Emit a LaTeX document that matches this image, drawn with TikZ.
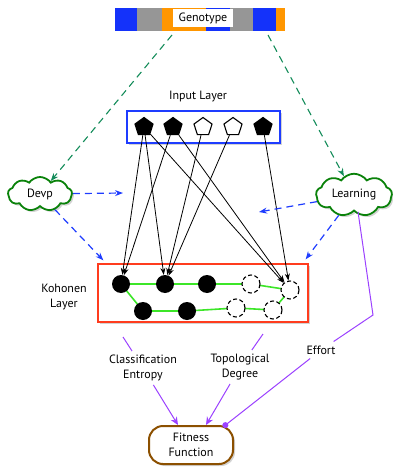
\documentclass[tikz,border=0pt]{standalone}
\usepackage{fontspec}
\setmainfont{PT Sans}
\usetikzlibrary{arrows.meta,shapes.geometric,shapes.symbols,shadows}
\definecolor{gene blue}{RGB}{20,50,250}
\definecolor{gene gray}{RGB}{150,150,150}
\definecolor{gene orange}{RGB}{255,150,0}
\definecolor{seed green}{RGB}{20,140,90}
\definecolor{cloud green}{RGB}{10,130,10}
\definecolor{hint blue}{RGB}{30,60,255}
\definecolor{som red}{RGB}{255,60,30}
\definecolor{ring green}{RGB}{60,230,40}
\definecolor{score purple}{RGB}{155,65,255}
\definecolor{fit brown}{RGB}{140,80,0}
\newcommand\diagfont{\fontsize{12}{14.5}\selectfont}
\tikzset{
  gene/.style={rectangle, inner sep=0pt, outer sep=0pt, minimum height=23, anchor=west},
  gene label/.style={fill=white, inner sep=2pt, minimum width=60, minimum height=18, font=\diagfont},
  layer box/.style={rectangle, fill=white, line width=1.3pt, drop shadow={opacity=0.35, shadow xshift=2pt, shadow yshift=-2pt}},
  layer label/.style={font=\diagfont, align=center},
  input unit/.style={regular polygon, regular polygon sides=5, minimum size=19, inner sep=0pt, draw=black, line width=1.1pt},
  on unit/.style={input unit, fill=black},
  off unit/.style={input unit, fill=white},
  som unit/.style={circle, minimum size=18, inner sep=0pt, fill=black},
  som ghost/.style={circle, minimum size=18, inner sep=0pt, draw=black, fill=white, line width=1.1pt, dash pattern=on 4pt off 2.5pt},
  ring/.style={ring green, line width=1.6pt},
  weight/.style={black, line width=0.8pt, arrows={-Stealth[length=7pt, width=5pt]}},
  mood/.style={cloud, cloud puffs=9, cloud puff arc=110, aspect=2, fill=white, draw=cloud green, line width=1.8pt, inner sep=1pt, font=\diagfont, drop shadow={opacity=0.35, shadow xshift=2pt, shadow yshift=-2pt}},
  seed link/.style={seed green, line width=1.1pt, dash pattern=on 7pt off 5pt, arrows={-Stealth[length=8pt, width=6pt]}},
  hint link/.style={hint blue, line width=1.2pt, dash pattern=on 7pt off 5pt, arrows={-Stealth[length=8pt, width=6pt]}},
  score/.style={score purple, line width=1pt},
  score link/.style={score, arrows={-Stealth[length=8pt, width=7pt]}},
  score label/.style={font=\diagfont, align=center, inner sep=4pt},
  fitness/.style={rectangle, rounded corners=14pt, draw=fit brown, fill=white, line width=2pt, minimum width=84, minimum height=38, align=center, font=\diagfont, drop shadow={opacity=0.35, shadow xshift=2pt, shadow yshift=-2pt}}
}

\begin{document}
\begin{tikzpicture}[x=1pt, y=-1pt]
  \useasboundingbox (0,0) rectangle (392,468);

  \node[gene, fill=gene blue,   minimum width=22] at (115,19.5) (g1) {};
  \node[gene, fill=gene gray,   minimum width=25] at (g1.east) (g2) {};
  \node[gene, fill=gene orange, minimum width=44] at (g2.east) (g3) {};
  \node[gene, fill=gene blue,   minimum width=24] at (g3.east) (g4) {};
  \node[gene, fill=gene gray,   minimum width=23] at (g4.east) (g5) {};
  \node[gene, fill=gene blue,   minimum width=23] at (g5.east) (g6) {};
  \node[gene, fill=gene orange, minimum width=9]  at (g6.east) (g7) {};
  \node[gene label] at (203,18) (genotype) {Genotype};
  \coordinate (geno left) at (172,35);
  \coordinate (geno right) at (268,35);

  \node[layer label] at (198,97) (input label) {Input Layer};
  \node[layer box, draw=hint blue, minimum width=153, minimum height=32] at (203.5,127) (input) {};
  \node[on unit]  at (144,127) (in1) {};
  \node[on unit]  at (173,127) (in2) {};
  \node[off unit] at (203,127) (in3) {};
  \node[off unit] at (233,127) (in4) {};
  \node[on unit]  at (263,127) (in5) {};

  \node[mood, minimum width=64, minimum height=34] at (40,194) (devp) {Devp};
  \node[mood, minimum width=76, minimum height=32] at (354,195) (learning) {Learning};
  \coordinate (devp aim) at (123,193);
  \coordinate (learning aim) at (259,212);

  \node[layer box, draw=som red, minimum width=210, minimum height=58] at (203,293) (som) {};
  \node[layer label] at (64,297) (som label) {Kohonen\\Layer};

  \coordinate (k1) at (121,284);
  \coordinate (k2) at (165,284);
  \coordinate (k3) at (207,284);
  \coordinate (k4) at (251,284);
  \coordinate (k5) at (290,290);
  \coordinate (k6) at (143,311);
  \coordinate (k7) at (187,311);
  \coordinate (k8) at (236,308);
  \coordinate (k9) at (273,310);
  \draw[ring] (k1) -- (k2) -- (k3) -- (k4) -- (k5) -- (k9) -- (k8) -- (k7) -- (k6) -- cycle;
  \node[som unit]  at (k1) (u1) {};
  \node[som unit]  at (k2) (u2) {};
  \node[som unit]  at (k3) (u3) {};
  \node[som ghost] at (k4) (u4) {};
  \node[som ghost] at (k5) (u5) {};
  \node[som unit]  at (k6) (u6) {};
  \node[som unit]  at (k7) (u7) {};
  \node[som ghost] at (k8) (u8) {};
  \node[som ghost] at (k9) (u9) {};

  \draw[weight] (in1) -- (u1);
  \draw[weight] (in1) -- (u2);
  \draw[weight] (in1) -- (u5);
  \draw[weight] (in2) -- (u1);
  \draw[weight] (in2) -- (u5);
  \draw[weight] (in3) -- (u2);
  \draw[weight] (in4) -- (u2);
  \draw[weight] (in5) -- (u5);

  \draw[seed link] (geno left) -- (devp);
  \draw[seed link] (geno right) -- (learning);

  \draw[hint link] (devp) -- (devp aim);
  \draw[hint link] (devp) -- ([shift={(6,-3)}]som.north west);
  \draw[hint link] (learning) -- (learning aim);
  \draw[hint link] (learning) -- ([shift={(-3,-4)}]som.north east);

  \node[fitness] at (191,445) (fitness) {Fitness\\Function};
  \node[score label] at (143,368) (entropy) {Classification\\Entropy};
  \node[score label] at (240,367) (degree) {Topological\\Degree};
  \node[score label] at (321,350) (effort) {Effort};
  \coordinate (entropy top) at (123,337);
  \coordinate (degree top) at (263,334);
  \coordinate (effort bend) at (373,315);

  \draw[score] (entropy top) -- (entropy);
  \draw[score link] (entropy) -- ([xshift=-13pt]fitness.north);
  \draw[score] (degree top) -- (degree);
  \draw[score link] (degree) -- ([xshift=15pt]fitness.north);
  \draw[score] ([xshift=4pt]learning.south) -- (effort bend) -- (effort);
  \draw[score, arrows={-{Circle[length=6pt]}}] (effort) -- ([xshift=32pt,yshift=-2pt]fitness.north);
\end{tikzpicture}
\end{document}
